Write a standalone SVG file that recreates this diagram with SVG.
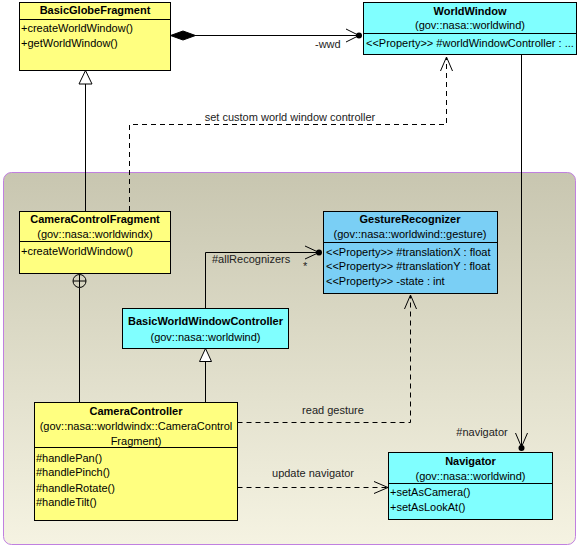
<svg xmlns="http://www.w3.org/2000/svg" width="581" height="550" viewBox="0 0 581 550">
<defs>
<linearGradient id="pkg" x1="0" y1="0" x2="0" y2="1">
<stop offset="0" stop-color="#c8c6b0"/>
<stop offset="1" stop-color="#f5f3e2"/>
</linearGradient>
</defs>
<style>
text{font-family:"Liberation Sans",Arial,sans-serif;font-size:11px;fill:#000}
.t{font-weight:bold;text-anchor:middle}
.c{text-anchor:middle}
.y{fill:#ffff80;stroke:#000;stroke-width:1}
.cy{fill:#80ffff;stroke:#000;stroke-width:1}
.bl{fill:#7acff5;stroke:#000;stroke-width:1}
.ln{fill:none;stroke:#000;stroke-width:1}
.d{fill:none;stroke:#000;stroke-width:1;stroke-dasharray:5,4}
.lbl{font-size:11px;fill:#222}
</style>
<rect x="0" y="0" width="581" height="550" fill="#fff"/>
<rect id="package" x="3.5" y="172.5" width="572" height="372" rx="8" fill="url(#pkg)" stroke="#c080e0" stroke-width="1"/>

<g id="connectors">
<!-- composition BasicGlobeFragment -> WorldWindow -->
<line class="ln" x1="195" y1="35.5" x2="358" y2="35.5"/>
<polygon points="170.5,35.5 183,31 195.5,35.5 183,40" fill="#000" stroke="#000"/>
<polyline class="ln" points="346,29 359,35.5 346,42"/>
<circle cx="359" cy="35.5" r="3" fill="#000"/>
<text class="lbl" x="315" y="48">-wwd</text>
<!-- generalization CameraControlFragment -> BasicGlobeFragment -->
<line class="ln" x1="85.5" y1="84" x2="85.5" y2="211"/>
<polygon points="85.5,70.5 79,84 92,84" fill="#fff" stroke="#000"/>
<!-- dependency set custom world window controller -->
<polyline class="d" points="129.5,211 129.5,124.5 446.5,124.5 446.5,58"/>
<polyline class="ln" points="440.5,71 446.5,57 452.5,71"/>
<text class="c lbl" x="290" y="121">set custom world window controller</text>
<!-- WorldWindow -> Navigator -->
<line class="ln" x1="521.5" y1="55" x2="521.5" y2="447"/>
<polyline class="ln" points="515.5,433 521.5,447 527.5,433"/>
<circle cx="521.5" cy="448" r="3" fill="#000"/>
<text class="c lbl" x="482" y="436">#navigator</text>
<!-- nesting CameraController in CameraControlFragment -->
<line class="ln" x1="79.5" y1="288" x2="79.5" y2="402"/>
<circle cx="79.5" cy="281" r="6.5" fill="none" stroke="#000"/>
<line class="ln" x1="73" y1="281" x2="86" y2="281"/>
<line class="ln" x1="79.5" y1="274.5" x2="79.5" y2="287.5"/>
<!-- generalization CameraController -> BasicWorldWindowController -->
<line class="ln" x1="205.5" y1="361.5" x2="205.5" y2="402"/>
<polygon points="205.5,348.5 199.5,361.5 211.5,361.5" fill="#fff" stroke="#000"/>
<!-- #allRecognizers -->
<polyline class="ln" points="205.5,308 205.5,252.5 318,252.5"/>
<polyline class="ln" points="305,246 319,252.5 305,259"/>
<circle cx="319" cy="252.5" r="3" fill="#000"/>
<text class="lbl" x="212" y="263">#allRecognizers</text>
<text class="lbl" x="303" y="270">*</text>
<!-- read gesture -->
<polyline class="d" points="237.5,422.5 410.5,422.5 410.5,296"/>
<polyline class="ln" points="404.5,309 410.5,295 416.5,309"/>
<text class="c lbl" x="333" y="414">read gesture</text>
<!-- update navigator -->
<line class="d" x1="237.5" y1="487.5" x2="387" y2="487.5"/>
<polyline class="ln" points="374,481.5 388,487.5 374,493.5"/>
<text class="c lbl" x="313" y="477">update navigator</text>
</g>

<g id="BasicGlobeFragment">
<rect class="y" x="19.5" y="2.5" width="151" height="68"/>
<line class="ln" x1="19.5" y1="19.5" x2="170.5" y2="19.5"/>
<text class="t" x="95" y="14">BasicGlobeFragment</text>
<text x="21" y="32">+createWorldWindow()</text>
<text x="21" y="47">+getWorldWindow()</text>
</g>

<g id="WorldWindow">
<rect class="cy" x="363.5" y="2.5" width="213" height="52"/>
<line class="ln" x1="363.5" y1="33.5" x2="576.5" y2="33.5"/>
<text class="t" x="470" y="15">WorldWindow</text>
<text class="c" x="470" y="29">(gov::nasa::worldwind)</text>
<text x="366" y="47">&lt;&lt;Property&gt;&gt; #worldWindowController : ...</text>
</g>

<g id="CameraControlFragment">
<rect class="y" x="19.5" y="211.5" width="151" height="62"/>
<line class="ln" x1="19.5" y1="241.5" x2="170.5" y2="241.5"/>
<text class="t" x="95" y="223">CameraControlFragment</text>
<text class="c" x="95" y="238">(gov::nasa::worldwindx)</text>
<text x="21" y="255">+createWorldWindow()</text>
</g>

<g id="GestureRecognizer">
<rect class="bl" x="323.5" y="211.5" width="174" height="82"/>
<line class="ln" x1="323.5" y1="242.5" x2="497.5" y2="242.5"/>
<text class="t" x="410" y="223">GestureRecognizer</text>
<text class="c" x="410" y="238">(gov::nasa::worldwind::gesture)</text>
<text x="326" y="255.5">&lt;&lt;Property&gt;&gt; #translationX : float</text>
<text x="326" y="270">&lt;&lt;Property&gt;&gt; #translationY : float</text>
<text x="326" y="284.5">&lt;&lt;Property&gt;&gt; -state : int</text>
</g>

<g id="BasicWorldWindowController">
<rect class="cy" x="122.5" y="308.5" width="166" height="40"/>
<text class="t" x="205.5" y="325">BasicWorldWindowController</text>
<text class="c" x="205.5" y="340.5">(gov::nasa::worldwind)</text>
</g>

<g id="CameraController">
<rect class="y" x="34.5" y="402.5" width="203" height="118"/>
<line class="ln" x1="34.5" y1="447.5" x2="237.5" y2="447.5"/>
<text class="t" x="136" y="414.5">CameraController</text>
<text class="c" x="136" y="429.5">(gov::nasa::worldwindx::CameraControl</text>
<text class="c" x="136" y="444.5">Fragment)</text>
<text x="36" y="461.5">#handlePan()</text>
<text x="36" y="476">#handlePinch()</text>
<text x="36" y="491.5">#handleRotate()</text>
<text x="36" y="506">#handleTilt()</text>
</g>

<g id="Navigator">
<rect class="cy" x="388.5" y="452.5" width="164" height="67"/>
<line class="ln" x1="388.5" y1="483.5" x2="552.5" y2="483.5"/>
<text class="t" x="470.5" y="464.5">Navigator</text>
<text class="c" x="470.5" y="479.5">(gov::nasa::worldwind)</text>
<text x="390" y="495.5">+setAsCamera()</text>
<text x="390" y="510.5">+setAsLookAt()</text>
</g>
</svg>
